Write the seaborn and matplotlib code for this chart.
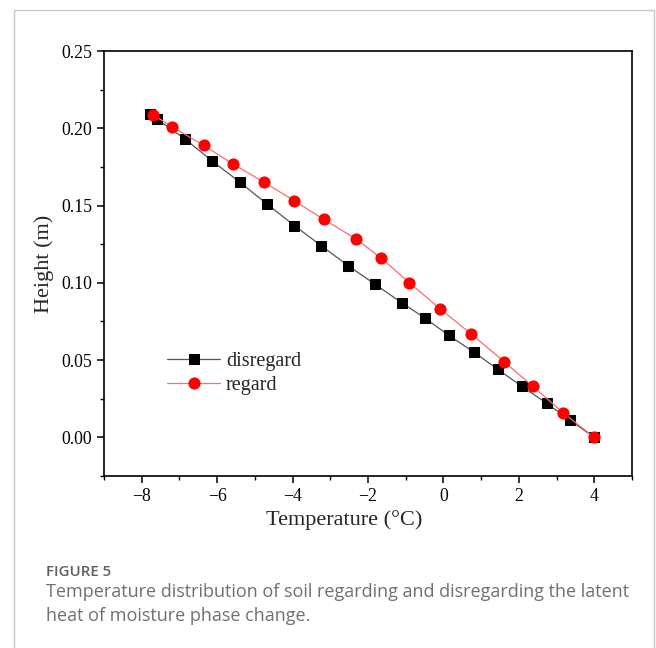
import matplotlib
matplotlib.use("Agg")
import matplotlib.pyplot as plt
from matplotlib.patches import Rectangle
from matplotlib.ticker import MultipleLocator, FixedLocator
import seaborn as sns
import pandas as pd

# Temperature (°C) vs. height (m) profiles
disregard_temp = [-7.77, -7.60, -6.85, -6.14, -5.39, -4.68, -3.95, -3.24, -2.52, -1.81,
                  -1.10, -0.48, 0.14, 0.82, 1.44, 2.08, 2.74, 3.36, 4.00]
disregard_height = [0.209, 0.206, 0.193, 0.179, 0.165, 0.151, 0.137, 0.124, 0.111, 0.099,
                    0.087, 0.077, 0.066, 0.055, 0.044, 0.033, 0.022, 0.011, 0.000]
regard_temp = [-7.69, -7.20, -6.36, -5.57, -4.75, -3.95, -3.17, -2.33, -1.65, -0.90,
               -0.08, 0.73, 1.61, 2.37, 3.17, 4.00]
regard_height = [0.2086, 0.201, 0.189, 0.1767, 0.165, 0.153, 0.141, 0.1286, 0.116, 0.100,
                 0.083, 0.067, 0.049, 0.033, 0.016, 0.000]

x_ticks = [-8, -6, -4, -2, 0, 2, 4]
y_ticks = [0.00, 0.05, 0.10, 0.15, 0.20, 0.25]

sns.set_theme(style="white")
plt.rcParams["font.family"] = ["Liberation Serif", "DejaVu Serif"]

fig = plt.figure(figsize=(6.56, 6.48), dpi=100)
fig.patch.set_facecolor("white")

# card frame
fig.add_artist(Rectangle((14 / 656, -0.01), (654 - 14) / 656, 1 - 10 / 648 + 0.01,
                         transform=fig.transFigure, fill=False,
                         edgecolor="#c8c8c8", linewidth=1.0))

ax = fig.add_axes([104 / 656, 1 - 476 / 648, (632 - 104) / 656, (476 - 51) / 648])

df_d = pd.DataFrame({"t": disregard_temp, "h": disregard_height})
df_r = pd.DataFrame({"t": regard_temp, "h": regard_height})

sns.lineplot(data=df_d, x="t", y="h", ax=ax, estimator=None, sort=False,
             color="#555555", linewidth=0.9, marker="s", markersize=7,
             markerfacecolor="black", markeredgecolor="black",
             label="disregard")
sns.lineplot(data=df_r, x="t", y="h", ax=ax, estimator=None, sort=False,
             color="#ff6b6b", linewidth=0.9, marker="o", markersize=8,
             markerfacecolor="#ff0000", markeredgecolor="#ff0000",
             label="regard")

ax.set_xlim(-9, 5)
ax.set_ylim(-0.025, 0.25)
ax.xaxis.set_major_locator(FixedLocator(x_ticks))
ax.xaxis.set_minor_locator(MultipleLocator(1))
ax.yaxis.set_major_locator(FixedLocator(y_ticks))
ax.yaxis.set_minor_locator(MultipleLocator(0.025))
ax.set_xticklabels([f"{v:g}".replace("-", "\u2212") for v in x_ticks])
ax.set_yticklabels([f"{v:.2f}" for v in y_ticks])

for s in ax.spines.values():
    s.set_color("black")
    s.set_linewidth(1.2)

ax.tick_params(which="major", direction="out", length=5, width=1.1, colors="black",
               labelsize=12.8, bottom=True, left=True, top=False, right=False)
ax.tick_params(which="minor", direction="out", length=3, width=1.0, colors="black",
               bottom=True, left=True, top=False, right=False)

ax.set_xlabel("Temperature (\u00b0C)", fontsize=16)
ax.set_ylabel("Height (m)", fontsize=16)
ax.xaxis.set_label_coords((344 - 104) / 528, -(510 - 476) / 425)
ax.yaxis.set_label_coords(-(104 - 54) / 528, 0.5)

leg = ax.legend(loc="upper left", bbox_to_anchor=(0.105, 0.312), frameon=False,
                fontsize=14.5, handlelength=2.6, handletextpad=0.3, labelspacing=0.25,
                borderaxespad=0)

# caption
fig.text(46 / 656, 1 - 572 / 648, "FIGURE 5", fontsize=10.8, color="#5f5f5f",
         family=["Open Sans", "DejaVu Sans"], weight="semibold", va="center")
fig.text(46 / 656, 1 - 592 / 648,
         "Temperature distribution of soil regarding and disregarding the latent",
         fontsize=13.0, color="#707070", family=["Open Sans", "DejaVu Sans"], va="center")
fig.text(46 / 656, 1 - 616 / 648, "heat of moisture phase change.",
         fontsize=13.0, color="#707070", family=["Open Sans", "DejaVu Sans"], va="center")

fig.savefig("out.png", dpi=100, facecolor="white")
